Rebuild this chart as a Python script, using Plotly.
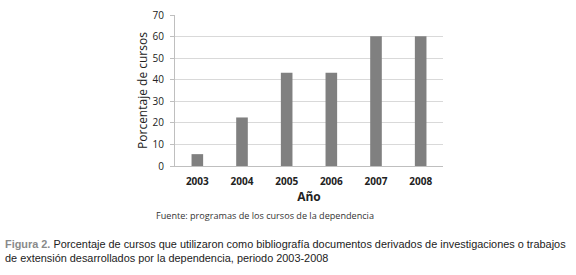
import plotly.graph_objects as go

years = ["2003", "2004", "2005", "2006", "2007", "2008"]
pct = [5.5, 22.5, 43.2, 43.2, 60.2, 60.2]
y_ticks = [0, 10, 20, 30, 40, 50, 60, 70]

fig = go.Figure(go.Bar(x=years, y=pct, marker_color="#808080", marker_line_width=0))

L, R, T, B = 175, 133, 15, 109
W, H = 576, 275
ph = H - T - B
pw = W - L - R

def py(p):
    return (H - B - p) / ph

def px(p):
    return (p - L) / pw

fig.update_layout(
    width=W, height=H,
    margin=dict(l=L, r=R, t=T, b=B, autoexpand=False),
    plot_bgcolor="white", paper_bgcolor="white",
    bargap=0.74,
    showlegend=False,
    font=dict(family="Open Sans, DejaVu Sans, sans-serif", color="#222"),
    xaxis=dict(
        type="category", automargin=False,
        showline=True, linecolor="#bfbfbf", linewidth=1,
        ticks="", ticklabelstandoff=6,
        tickfont=dict(size=10, color="#222", family="Open Sans"),
        title=dict(text="<b>Año</b>", font=dict(size=12, color="#222"), standoff=4),
        showgrid=False,
    ),
    yaxis=dict(
        range=[0, 70], tickvals=y_ticks, automargin=False,
        showline=True, linecolor="#bfbfbf", linewidth=1,
        ticks="outside", ticklen=4, tickcolor="#bfbfbf", ticklabelstandoff=4,
        gridcolor="#d9d9d9", gridwidth=1,
        tickfont=dict(size=10, color="#222"),
        title=dict(text="Porcentaje de cursos", font=dict(size=12, color="#222"), standoff=2),
        zeroline=False,
    ),
    annotations=[
        dict(text="Fuente: programas de los cursos de la dependencia",
             xref="paper", yref="paper", x=px(265), y=py(215),
             xanchor="center", yanchor="middle", showarrow=False,
             font=dict(size=9.1, color="#333", family="Open Sans")),
        dict(text="<span style='color:#8a8a8a'><b>Figura 2.</b></span> Porcentaje de cursos que utilizaron como bibliografía documentos derivados de investigaciones o trabajos<br>de extensión desarrollados por la dependencia, periodo 2003-2008",
             xref="paper", yref="paper", x=px(3), y=py(236),
             xanchor="left", yanchor="top", align="left", showarrow=False,
             font=dict(size=10.9, color="#222", family="Liberation Sans Narrow, Arial Narrow, Liberation Sans")),
    ],
)
fig.update_xaxes(tickprefix="<b>", ticksuffix="</b>")
fig.update_yaxes(tickprefix="<b>", ticksuffix="</b>")

fig.write_html("out.html", config={"displayModeBar": False},
               post_script="document.body.style.margin='0';")
